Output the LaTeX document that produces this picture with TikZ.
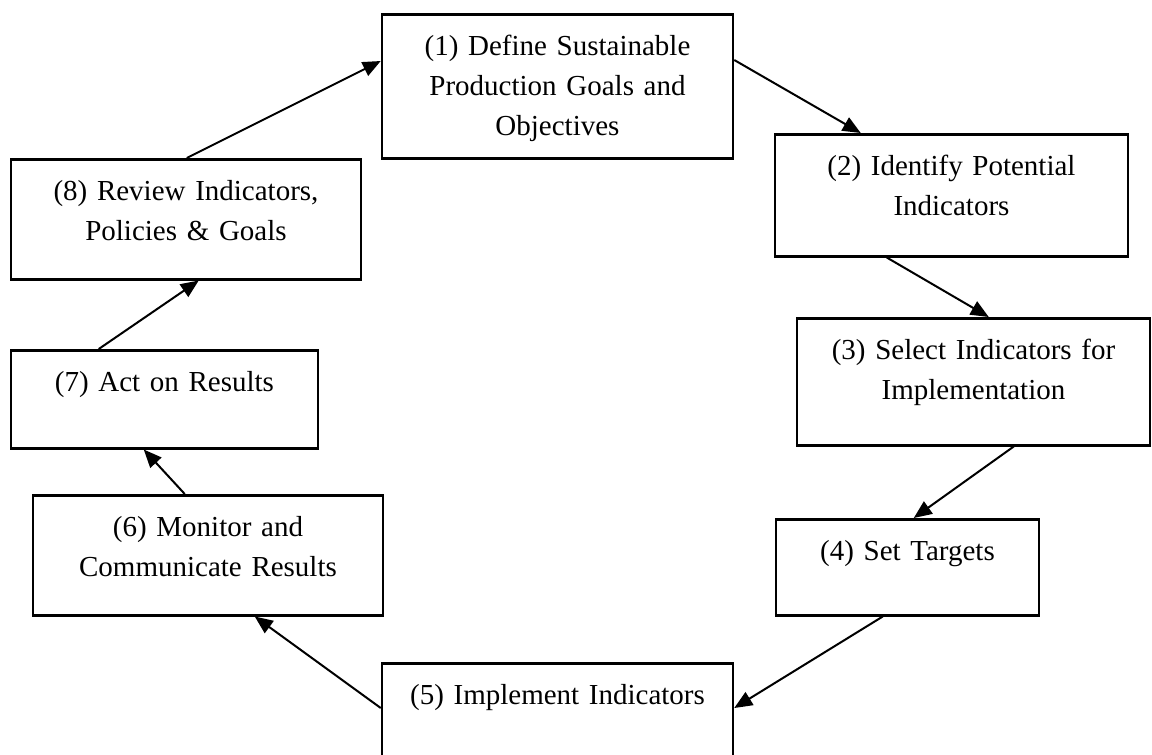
\documentclass[tikz,border=0pt]{standalone}
\usepackage{fontspec}
\setmainfont{Liberation Serif}
\usetikzlibrary{arrows.meta,calc}

\tikzset{
etape/.style 2 args={draw,line width=2.5pt,
anchor=north,inner xsep=0pt,inner ysep=0pt,
text width=#1,align=center,
text height=41pt,text depth=#2},
fleche/.style={line width=2pt,
-{Triangle[length=18pt,width=15pt]}}
}

\begin{document}
\begin{tikzpicture}[x=1pt,y=-1pt,
font=\fontsize{29}{40}\selectfont]

\useasboundingbox (0,0) rectangle (1152,755);

% Etapes
\node[etape={351pt}{103pt}]
(e1)
at (557.5,13)
{(1) Define Sustainable\\ Production Goals and\\ Objectives};

\node[etape={353pt}{81pt}]
(e2)
at (951.5,133)
{(2) Identify Potential\\ Indicators};

\node[etape={353pt}{86pt}]
(e3)
at (973.5,317)
{(3) Select Indicators for\\ Implementation};

\node[etape={263pt}{55pt}]
(e4)
at (907.5,518)
{(4) Set Targets};

\node[etape={351pt}{89pt}]
(e5)
at (557.5,662)
{(5) Implement Indicators};

\node[etape={350pt}{79pt}]
(e6)
at (208,494)
{(6) Monitor and\\ Communicate Results};

\node[etape={307pt}{57pt}]
(e7)
at (164.5,349)
{(7) Act on Results};

\node[etape={350pt}{79pt}]
(e8)
at (186,158)
{(8) Review Indicators,\\ Policies \& Goals};

% Fleches
\draw[fleche] ($(e1.north east)+(0,47)$) -- ($(e2.north west)+(87,0)$);
\draw[fleche] ($(e2.south west)+(113,0)$) -- ($(e3.north west)+(193,0)$);
\draw[fleche] ($(e3.south west)+(218,0)$) -- ($(e4.north west)+(139,0)$);
\draw[fleche] ($(e4.south west)+(108,0)$) -- ($(e5.north east)+(0,46)$);
\draw[fleche] ($(e5.north west)+(0,46)$) -- ($(e6.south west)+(223,0)$);
\draw[fleche] ($(e6.north west)+(153,0)$) -- ($(e7.south west)+(134,0)$);
\draw[fleche] ($(e7.north west)+(89,0)$) -- ($(e8.south west)+(189,0)$);
\draw[fleche] ($(e8.north west)+(177,0)$) -- ($(e1.north west)+(0,48)$);

\end{tikzpicture}
\end{document}
